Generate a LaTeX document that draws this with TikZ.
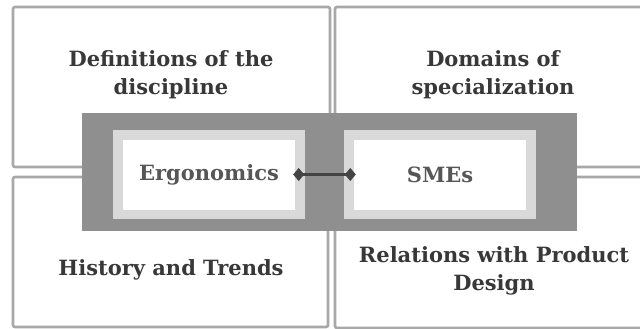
\documentclass[tikz,border=0pt]{standalone}
\usepackage{fontspec}
\setmainfont{DejaVu Serif}
\usetikzlibrary{arrows.meta}
\definecolor{boxline}{HTML}{A8A8A8}
\definecolor{txt}{HTML}{383838}
\definecolor{dark}{HTML}{8F8F8F}
\definecolor{light}{HTML}{D9D9D9}
\definecolor{conn}{HTML}{444444}
\tikzset{
  quad/.style={draw=boxline, line width=2.6pt, fill=white, rounded corners=2pt},
  lab/.style={text=txt, font=\fontsize{21}{28}\selectfont\bfseries, align=center, inner sep=0pt},
  core/.style={fill=light, minimum width=192pt, minimum height=89pt, inner sep=0pt},
  corein/.style={fill=white, minimum width=172pt, minimum height=70pt, inner sep=0pt},
  corelab/.style={text=txt!85!white, font=\fontsize{21}{28}\selectfont\bfseries, inner sep=0pt},
  link/.style={draw=conn, line width=3pt, {Diamond[length=11pt,width=13pt]}-{Diamond[length=11pt,width=13pt]}}
}
\begin{document}
\begin{tikzpicture}[x=1pt,y=-1pt]
\useasboundingbox (0,0) rectangle (640,329);
\clip (0,0) rectangle (640,329);
\fill[white] (0,0) rectangle (640,329);
% quadrant boxes
\draw[quad] (13,7) rectangle (330,167);
\draw[quad] (335,7) rectangle (650,167);
\draw[quad] (13,177) rectangle (328,327);
\draw[quad] (335,177) rectangle (650,328);
% labels
\node[lab] (def) at (171,75) {Definitions of the\\discipline};
\node[lab] (dom) at (493,75) {Domains of\\specialization};
\node[lab] (his) at (171,270) {History and Trends};
\node[lab] (rel) at (494,271) {Relations with Product\\Design};
% central frame
\fill[dark] (82,113) rectangle (577,231);
\node[core] (erg) at (209,174.5) {};
\node[corein] (ergin) at (209,175) {};
\node[core] (sme) at (440,174.5) {};
\node[corein] (smein) at (440,175) {};
\node[corelab] (ergt) at (209,175) {Ergonomics};
\node[corelab] (smet) at (440,175) {SMEs};
\draw[link, shorten <=-12pt, shorten >=-12pt] (erg.east) -- (sme.west);
\end{tikzpicture}
\end{document}
